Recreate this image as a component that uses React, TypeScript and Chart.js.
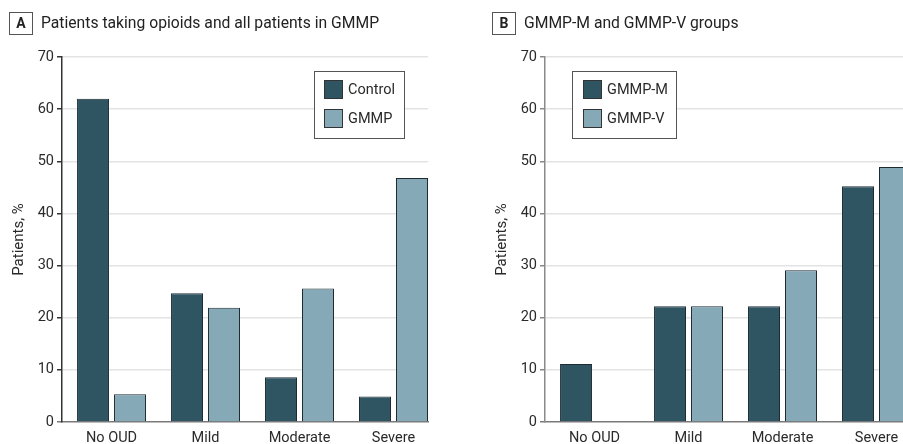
import React, { useEffect, useRef } from "react";
import { Chart, registerables } from "chart.js";

Chart.register(...registerables);

const categories = ["No OUD", "Mild", "Moderate", "Severe"];
const controlValues = [62.0, 24.7, 8.6, 4.9];
const gmmpValues = [5.3, 21.9, 25.6, 46.8];
const gmmpMValues = [11.1, 22.2, 22.2, 45.2];
const gmmpVValues = [0, 22.2, 29.1, 48.9];
const yTickValues = [0, 10, 20, 30, 40, 50, 60, 70];

const DARK = "#2f5563";
const LIGHT = "#86a9b7";
const EDGE = "#1e2c32";
const FONT = "Roboto";
const TEXT = "#2a2a2a";

const boxLegend = {
  id: "boxLegend",
  afterDatasetsDraw(chart: any, _args: any, opts: any) {
    if (!opts || opts.x === undefined) return;
    const { ctx } = chart;
    const { x, y, w, h, sx, tx } = opts;
    ctx.save();
    ctx.fillStyle = "#ffffff";
    ctx.fillRect(x, y, w, h);
    ctx.strokeStyle = "#555";
    ctx.lineWidth = 1;
    ctx.strokeRect(x + 0.5, y + 0.5, w - 1, h - 1);
    chart.data.datasets.forEach((ds: any, i: number) => {
      const sy = y + 9 + i * 29;
      ctx.fillStyle = ds.backgroundColor;
      ctx.fillRect(x + sx, sy, 19, 19);
      ctx.strokeStyle = "#333";
      ctx.strokeRect(x + sx + 0.5, sy + 0.5, 18, 18);
      ctx.fillStyle = TEXT;
      ctx.font = `14.5px ${FONT}`;
      ctx.textBaseline = "middle";
      ctx.textAlign = "left";
      ctx.fillText(ds.label, x + tx, sy + 10);
    });
    ctx.restore();
  },
};

type PanelProps = {
  letter: string;
  title: string;
  labels: [string, string];
  first: number[];
  second: number[];
  legend: { x: number; y: number; w: number; h: number; sx: number; tx: number };
  yAxisColor: string;
  left: number;
};

function Panel(props: PanelProps) {
  const ref = useRef<HTMLCanvasElement | null>(null);
  useEffect(() => {
    const canvas = ref.current;
    if (!canvas) return;
    const font = { family: FONT, size: 14.5 };
    const chart = new Chart(canvas, {
      type: "bar",
      data: {
        datasets: [
          {
            label: props.labels[0],
            data: props.first.map((v, i) => ({ x: i, y: v })),
            backgroundColor: DARK,
            borderColor: EDGE,
            borderWidth: (c: any) => (c.raw && c.raw.y === 0 ? 0 : 1),
          },
          {
            label: props.labels[1],
            data: props.second.map((v, i) => ({ x: i, y: v })),
            backgroundColor: LIGHT,
            borderColor: EDGE,
            borderWidth: (c: any) => (c.raw && c.raw.y === 0 ? 0 : 1),
          },
        ],
      } as any,
      options: {
        animation: false,
        responsive: false,
        maintainAspectRatio: false,
        devicePixelRatio: 1,
        layout: { padding: { top: 57, right: 32, bottom: 0, left: 0 } },
        datasets: { bar: { categoryPercentage: 0.787, barPercentage: 0.865 } },
        plugins: {
          legend: { display: false },
          tooltip: { enabled: false },
          boxLegend: props.legend,
        } as any,
        scales: {
          x: {
            type: "linear",
            offset: false,
            min: -0.527,
            max: 3.367,
            grid: { display: false, drawTicks: false, offset: false },
            border: { display: true, color: "#7a7a7a", width: 1.5 },
            ticks: {
              padding: 8,
              font,
              color: TEXT,
              autoSkip: false,
              maxRotation: 0,
              callback: (v: any) => categories[v as number] ?? "",
            },
            afterBuildTicks: (s: any) => {
              s.ticks = categories.map((_, i) => ({ value: i }));
            },
            afterFit: (s: any) => {
              s.height = 22;
            },
          },
          y: {
            min: 0,
            max: 70,
            grid: {
              color: (c: any) => (c.tick && c.tick.value === 0 ? "rgba(0,0,0,0)" : "#e3e3e3"),
              tickColor: (c: any) => (c.tick && c.tick.value === 0 ? "#7a7a7a" : props.yAxisColor),
              tickLength: 5,
              lineWidth: 1.5,
            },
            border: { color: props.yAxisColor, width: 1.5 },
            ticks: { padding: 3, font, color: TEXT },
            afterBuildTicks: (s: any) => {
              s.ticks = yTickValues.map((v) => ({ value: v }));
            },
            title: {
              display: true,
              text: "Patients, %",
              font: { family: FONT, size: 15 },
              color: TEXT,
              padding: { top: 10, bottom: 0 },
            },
            afterFit: (s: any) => {
              s.width = 62;
            },
          },
        } as any,
      } as any,
      plugins: [boxLegend],
    });
    return () => chart.destroy();
  }, []);

  return (
    <div style={{ position: "absolute", left: props.left, top: 0, width: 460, height: 444 }}>
      <canvas ref={ref} width={460} height={444} style={{ position: "absolute", left: 0, top: 0, width: 460, height: 444 }} />
      <div
        style={{
          position: "absolute",
          left: 9,
          top: 12,
          width: 22,
          height: 21,
          border: "1px solid #555",
          fontFamily: FONT,
          fontWeight: 700,
          fontSize: 14,
          lineHeight: "21px",
          textAlign: "center",
          color: "#222",
        }}
      >
        {props.letter}
      </div>
      <div
        style={{
          position: "absolute",
          left: 41,
          top: 13,
          fontFamily: FONT,
          fontSize: 15.7,
          lineHeight: "20px",
          color: "#222",
          whiteSpace: "nowrap",
        }}
      >
        {props.title}
      </div>
    </div>
  );
}

export default function App() {
  return (
    <div style={{ position: "fixed", left: 0, top: 0, width: 903, height: 444, overflow: "hidden", background: "#fff" }}>
      <Panel
        letter="A"
        title="Patients taking opioids and all patients in GMMP"
        labels={["Control", "GMMP"]}
        first={controlValues}
        second={gmmpValues}
        legend={{ x: 314, y: 71, w: 91, h: 68, sx: 10, tx: 34 }}
        yAxisColor="#333333"
        left={0}
      />
      <Panel
        letter="B"
        title="GMMP-M and GMMP-V groups"
        labels={["GMMP-M", "GMMP-V"]}
        first={gmmpMValues}
        second={gmmpVValues}
        legend={{ x: 89, y: 71, w: 105, h: 68, sx: 11, tx: 35 }}
        yAxisColor="#8a8a8a"
        left={483}
      />
    </div>
  );
}
